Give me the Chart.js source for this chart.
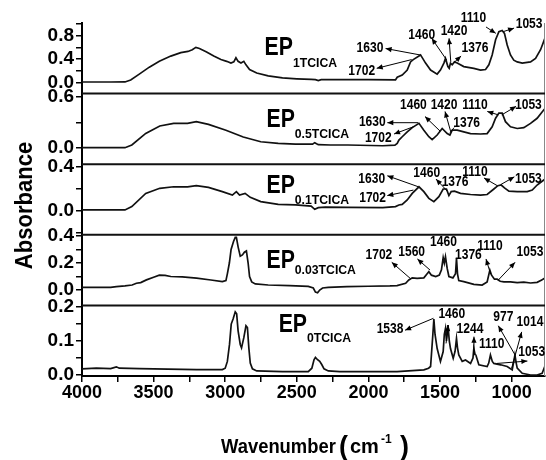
<!DOCTYPE html>
<html>
<head>
<meta charset="utf-8">
<script src="https://cdn.jsdelivr.net/npm/chart.js@4.4.0/dist/chart.umd.min.js"></script>
<style>
  html, body { margin: 0; padding: 0; background: #fff; }
  #wrap { width: 546px; height: 460px; }
</style>
</head>
<body>
<div id="wrap"><canvas id="ftir" width="546" height="460"></canvas></div>
<script>
// FTIR spectra, one panel per sample, wavenumber in cm-1 vs absorbance
const samples = ['1TCICA', '0.5TCICA', '0.1TCICA', '0.03TCICA', '0TCICA'];

const wn1 = [4000,3800,3700,3660,3600,3530,3460,3380,3310,3260,3230,3205,3180,3130,3080,3030,2990,2960,2940,2925,2910,2890,2870,2855,2830,2780,2700,2600,2500,2400,2370,2350,2330,2200,2000,1811,1799,1764,1729,1706,1687,1636,1601,1566,1520,1497,1473,1462,1445,1436,1427,1415,1399,1380,1334,1264,1217,1182,1159,1136,1112,1089,1066,1050,1031,1008,985,961,926,868,833,798,764,756];
const abs1 = [0.005,0.005,0.006,0.04,0.14,0.26,0.36,0.45,0.51,0.53,0.56,0.60,0.58,0.52,0.45,0.39,0.36,0.33,0.35,0.42,0.36,0.33,0.36,0.30,0.22,0.16,0.11,0.075,0.06,0.05,0.045,0.03,0.045,0.045,0.045,0.04,0.086,0.125,0.21,0.35,0.39,0.47,0.33,0.21,0.14,0.21,0.33,0.41,0.27,0.24,0.33,0.30,0.35,0.33,0.27,0.24,0.21,0.22,0.30,0.47,0.73,0.87,0.89,0.84,0.64,0.47,0.38,0.35,0.33,0.35,0.41,0.56,0.78,0.84];

const wn2 = [4000,3700,3652,3555,3457,3360,3263,3202,3117,2995,2874,2752,2630,2509,2390,2375,2350,2265,2144,1900,1815,1799,1787,1764,1729,1694,1647,1613,1578,1555,1520,1485,1450,1431,1415,1380,1334,1287,1217,1171,1136,1112,1089,1066,1043,1008,961,915,868,822,775,756];
const abs2 = [0.004,0.004,0.036,0.172,0.259,0.29,0.29,0.31,0.278,0.21,0.13,0.074,0.055,0.047,0.045,0.063,0.04,0.036,0.036,0.027,0.035,0.055,0.094,0.133,0.19,0.24,0.29,0.21,0.133,0.10,0.153,0.23,0.17,0.153,0.21,0.21,0.19,0.17,0.165,0.17,0.25,0.35,0.41,0.41,0.31,0.25,0.23,0.24,0.29,0.35,0.45,0.48];

const wn3 = [4000,3700,3652,3555,3457,3360,3263,3202,3117,3020,2950,2922,2900,2861,2825,2752,2630,2509,2400,2375,2350,2300,2144,1900,1811,1787,1764,1729,1694,1647,1613,1578,1543,1508,1478,1455,1438,1422,1399,1357,1287,1217,1171,1124,1096,1073,1050,1019,961,891,856,822,787,756];
const abs3 = [0.01,0.01,0.04,0.16,0.206,0.22,0.22,0.23,0.215,0.176,0.145,0.176,0.145,0.16,0.124,0.085,0.06,0.055,0.045,0.015,0.03,0.035,0.033,0.03,0.04,0.055,0.06,0.10,0.16,0.22,0.176,0.115,0.085,0.13,0.2,0.2,0.14,0.176,0.18,0.16,0.15,0.145,0.15,0.2,0.23,0.236,0.21,0.18,0.176,0.176,0.19,0.236,0.27,0.3];

const wn4 = [4000,3800,3760,3700,3650,3620,3590,3550,3500,3460,3420,3380,3300,3200,3100,3020,2995,2985,2971,2959,2942,2930,2922,2910,2895,2880,2866,2852,2840,2830,2815,2790,2700,2550,2420,2385,2370,2355,2340,2320,2280,2150,2000,1850,1800,1740,1718,1694,1660,1613,1590,1578,1560,1530,1505,1490,1478,1470,1462,1450,1438,1410,1392,1385,1378,1369,1334,1264,1206,1171,1152,1140,1120,1101,1080,1054,1008,961,915,868,822,790,756];
const abs4 = [0.02,0.02,0.025,0.03,0.037,0.05,0.055,0.075,0.095,0.11,0.108,0.1,0.097,0.088,0.074,0.062,0.07,0.12,0.2,0.30,0.36,0.39,0.39,0.32,0.25,0.26,0.28,0.29,0.2,0.1,0.06,0.045,0.037,0.033,0.027,0.015,-0.015,-0.02,0.0,0.015,0.02,0.025,0.028,0.03,0.032,0.05,0.074,0.09,0.086,0.09,0.12,0.136,0.11,0.10,0.11,0.15,0.24,0.2,0.247,0.16,0.10,0.09,0.12,0.235,0.12,0.07,0.062,0.042,0.037,0.06,0.148,0.11,0.08,0.08,0.065,0.06,0.06,0.055,0.058,0.052,0.057,0.075,0.095];

const wn5 = [4000,3900,3800,3760,3740,3600,3400,3200,3020,3000,2985,2970,2958,2945,2930,2920,2910,2895,2886,2870,2855,2845,2835,2825,2810,2780,2600,2420,2395,2380,2370,2355,2340,2325,2310,2280,2200,2000,1800,1720,1613,1580,1566,1560,1550,1543,1535,1520,1497,1478,1470,1462,1455,1445,1435,1427,1408,1395,1385,1378,1369,1345,1322,1287,1270,1264,1255,1250,1229,1171,1160,1148,1135,1124,1077,1031,996,985,977,968,961,926,868,822,787,764,756];
const abs5 = [0.018,0.02,0.019,0.024,0.02,0.019,0.017,0.016,0.016,0.02,0.04,0.09,0.15,0.165,0.186,0.18,0.13,0.09,0.08,0.11,0.145,0.14,0.08,0.035,0.018,0.012,0.01,0.01,0.02,0.045,0.052,0.045,0.04,0.03,0.018,0.012,0.01,0.01,0.01,0.012,0.015,0.02,0.025,0.06,0.12,0.165,0.12,0.078,0.04,0.069,0.12,0.137,0.10,0.147,0.1,0.078,0.049,0.07,0.108,0.08,0.059,0.04,0.044,0.034,0.05,0.078,0.06,0.059,0.03,0.025,0.035,0.059,0.04,0.034,0.03,0.025,0.015,0.04,0.059,0.035,0.02,0.005,0.0,0.0,0.005,0.03,0.04];

// tick values (all ticks, then the labelled ones)
const xTicks = [4000,3750,3500,3250,3000,2750,2500,2250,2000,1750,1500,1250,1000];
const xLabels = [4000,3500,3000,2500,2000,1500,1000];
const yTicks = [[0,0.2,0.4,0.6,0.8,1.0],[0,0.3,0.6],[-0.2,0,0.2,0.4],[0,0.1,0.2,0.3,0.4],[0,0.05,0.1,0.15,0.2]];
const yLabels = [[0,0.4,0.8],[0,0.6],[0,0.4],[0,0.2,0.4],[0,0.1,0.2]];
const yRanges = [[-0.194,1.018],[-0.19,0.64],[-0.216,0.425],[-0.114,0.409],[-0.003,0.205]];

const FONT = "'Liberation Sans', Arial, sans-serif";
const pts = (xs, ys) => xs.map((x, i) => ({ x: x, y: ys[i] }));
const series = [[wn1, abs1], [wn2, abs2], [wn3, abs3], [wn4, abs4], [wn5, abs5]];

// peak labels: axis, text, label centre [wn, abs], arrow from -> to (head at "to")
const peakNotes = [
  ['y1','1630',1989,0.58,[1640,0.47],[1880,0.58]],
  ['y1','1702',2047,0.20,[1698,0.39],[1942,0.24]],
  ['y1','1460',1628,0.81,[1453,0.38],[1558,0.755]],
  ['y1','1420',1402,0.87,[1425,0.35],[1437,0.755]],
  ['y1','1376',1256,0.58,[1402,0.34],[1353,0.45]],
  ['y1','1110',1267,1.11,[1179,0.95],[1111,0.84]],
  ['y1','1053',878,1.00,[1058,0.87],[983,0.93]],

  ['y2','1630',1973,0.306,[1652,0.298],[1868,0.298]],
  ['y2','1702',1931,0.118,[1686,0.25],[1821,0.165]],
  ['y2','1460',1686,0.50,[1500,0.2],[1605,0.37]],
  ['y2','1420',1472,0.51,[1425,0.19],[1465,0.43]],
  ['y2','1376',1314,0.29,[1430,0.18],[1402,0.24],true],
  ['y2','1110',1256,0.50,[1093,0.39],[1170,0.43]],
  ['y2','1053',883,0.50,[1069,0.39],[969,0.49]],

  ['y3','1630',1977,0.293,[1651,0.22],[1868,0.32]],
  ['y3','1702',1971,0.115,[1686,0.19],[1868,0.14]],
  ['y3','1460',1593,0.343,[1449,0.18],[1528,0.29]],
  ['y3','1376',1395,0.266],
  ['y3','1110',1256,0.357,[1100,0.23],[1193,0.30]],
  ['y3','1053',883,0.293,[1076,0.24],[981,0.31]],

  ['y4','1702',1927,0.256,[1709,0.087],[1837,0.205]],
  ['y4','1560',1698,0.28,[1570,0.148],[1658,0.23]],
  ['y4','1460',1476,0.354],
  ['y4','1376',1302,0.256],
  ['y4','1110',1151,0.327,[1146,0.116],[1179,0.23]],
  ['y4','1053',872,0.28,[1093,0.074],[976,0.205]],

  ['y5','1538',1849,0.136,[1546,0.167],[1744,0.132]],
  ['y5','1460',1418,0.178,[1458,0.093],[1442,0.147]],
  ['y5','1244',1291,0.136,[1263,0.059],[1263,0.113]],
  ['y5','1110',1139,0.09],
  ['y5','977',1058,0.169,[976,0.059],[1093,0.145]],
  ['y5','1014',872,0.155,[1000,0.02],[930,0.127]],
  ['y5','1053',860,0.066,[1104,0.034],[890,0.041]]
];

// sample tags: EP left edge wn, baseline abs of "EP" and of the subscript
const tagSpots = [[2725,0.469,0.263],[2712,0.247,0.118],[2712,0.164,0.064],[2712,0.163,0.119],[2627,0.126,0.097]];

function squeezedText(ctx, text, x, y, font, squeeze) {
  ctx.font = font;
  const w = ctx.measureText(text).width;
  ctx.fillText(text, x, y, w * squeeze);
  return w * squeeze;
}

function arrow(ctx, x1, y1, x2, y2, head) {
  ctx.beginPath();
  ctx.moveTo(x1, y1);
  ctx.lineTo(x2, y2);
  ctx.stroke();
  if (!head) return;
  const a = Math.atan2(y2 - y1, x2 - x1);
  const len = 6, half = 2.6;
  ctx.beginPath();
  ctx.moveTo(x2, y2);
  ctx.lineTo(x2 - len * Math.cos(a) + half * Math.sin(a), y2 - len * Math.sin(a) - half * Math.cos(a));
  ctx.lineTo(x2 - len * Math.cos(a) - half * Math.sin(a), y2 - len * Math.sin(a) + half * Math.cos(a));
  ctx.closePath();
  ctx.fill();
}

const decor = {
  id: 'decor',
  afterDraw(chart) {
    const ctx = chart.ctx;
    const area = chart.chartArea;
    const x = chart.scales.x;
    ctx.save();
    ctx.fillStyle = '#000';
    ctx.strokeStyle = '#000';

    // right frame edge
    ctx.strokeStyle = '#888';
    ctx.lineWidth = 1;
    ctx.beginPath();
    ctx.moveTo(area.right - 0.5, area.top);
    ctx.lineTo(area.right - 0.5, area.bottom);
    ctx.stroke();

    // panel separators
    ctx.strokeStyle = '#111';
    ctx.lineWidth = 2;
    ['y2', 'y3', 'y4', 'y5'].forEach(id => {
      const top = chart.scales[id].top;
      ctx.beginPath();
      ctx.moveTo(area.left, top);
      ctx.lineTo(area.right, top);
      ctx.stroke();
    });

    // sample names
    ctx.textAlign = 'left';
    ctx.textBaseline = 'alphabetic';
    samples.forEach((name, i) => {
      const s = chart.scales['y' + (i + 1)];
      const [w, base, subBase] = tagSpots[i];
      const px = x.getPixelForValue(w);
      const wEP = squeezedText(ctx, 'EP', px, s.getPixelForValue(base), 'bold 25px ' + FONT, 0.85);
      squeezedText(ctx, name, px + wEP, s.getPixelForValue(subBase), 'bold 13px ' + FONT, 0.94);
    });

    // peak labels and arrows
    ctx.strokeStyle = '#000';
    ctx.lineWidth = 1;
    ctx.textAlign = 'center';
    ctx.textBaseline = 'middle';
    peakNotes.forEach(n => {
      const s = chart.scales[n[0]];
      squeezedText(ctx, n[1], x.getPixelForValue(n[2]), s.getPixelForValue(n[3]), 'bold 14px ' + FONT, 0.86);
      if (n[4]) {
        arrow(ctx, x.getPixelForValue(n[4][0]), s.getPixelForValue(n[4][1]),
                   x.getPixelForValue(n[5][0]), s.getPixelForValue(n[5][1]), !n[6]);
      }
    });

    // y title
    ctx.save();
    ctx.translate(25, (area.top + area.bottom) / 2 + 6);
    ctx.rotate(-Math.PI / 2);
    squeezedText(ctx, 'Absorbance', 0, 0, 'bold 24px ' + FONT, 0.92);
    ctx.restore();

    // x title: Wavenumber (cm-1)
    ctx.textAlign = 'left';
    ctx.textBaseline = 'alphabetic';
    squeezedText(ctx, 'Wavenumber', 221, 453, 'bold 20px ' + FONT, 0.92);
    squeezedText(ctx, '(', 339, 455, 'bold 27px ' + FONT, 1);
    squeezedText(ctx, 'cm', 350, 453, 'bold 20px ' + FONT, 1);
    squeezedText(ctx, '-1', 381, 443, 'bold 12px ' + FONT, 1);
    squeezedText(ctx, ')', 400, 455, 'bold 27px ' + FONT, 1);
    ctx.restore();
  }
};

function panelAxis(i) {
  const ticks = yTicks[i], labels = yLabels[i];
  return {
    type: 'linear',
    position: 'left',
    stack: 'ftir',
    stackWeight: 1,
    weight: 5 - i,
    min: yRanges[i][0],
    max: yRanges[i][1],
    afterBuildTicks: s => { s.ticks = ticks.map(v => ({ value: v })); },
    afterFit: s => { s.width = 60; },
    ticks: {
      autoSkip: false,
      padding: 2,
      color: '#000',
      font: { family: FONT, size: 19, weight: 'bold' },
      callback: v => labels.includes(v) ? v.toFixed(1) : ''
    },
    grid: { drawOnChartArea: false, drawTicks: true, tickLength: 6, color: '#000', lineWidth: 1.5 },
    border: { display: true, color: '#000', width: 2 }
  };
}

const scales = {
  x: {
    type: 'linear',
    position: 'bottom',
    reverse: true,
    min: 767,
    max: 4000,
    afterBuildTicks: s => { s.ticks = xTicks.map(v => ({ value: v })); },
    afterFit: s => { s.height = 84; },
    ticks: {
      autoSkip: false,
      maxRotation: 0,
      padding: 0,
      color: '#000',
      font: { family: FONT, size: 18, weight: 'bold' },
      callback: v => xLabels.includes(v) ? String(v) : ''
    },
    grid: { drawOnChartArea: false, drawTicks: true, tickLength: 6, color: '#000', lineWidth: 1.5 },
    border: { display: true, color: '#000', width: 2 }
  }
};
samples.forEach((s, i) => { scales['y' + (i + 1)] = panelAxis(i); });

new Chart(document.getElementById('ftir'), {
  type: 'line',
  data: {
    datasets: series.map((s, i) => ({
      label: 'EP' + samples[i],
      data: pts(s[0], s[1]),
      yAxisID: 'y' + (i + 1),
      borderColor: '#111',
      borderWidth: 1.7,
      pointRadius: 0,
      tension: 0,
      fill: false
    }))
  },
  options: {
    responsive: false,
    devicePixelRatio: 1,
    animation: false,
    events: [],
    layout: { padding: { left: 22, right: 1, top: 23, bottom: 0 } },
    plugins: { legend: { display: false }, tooltip: { enabled: false }, title: { display: false } },
    scales: scales
  },
  plugins: [decor]
});
</script>
</body>
</html>
